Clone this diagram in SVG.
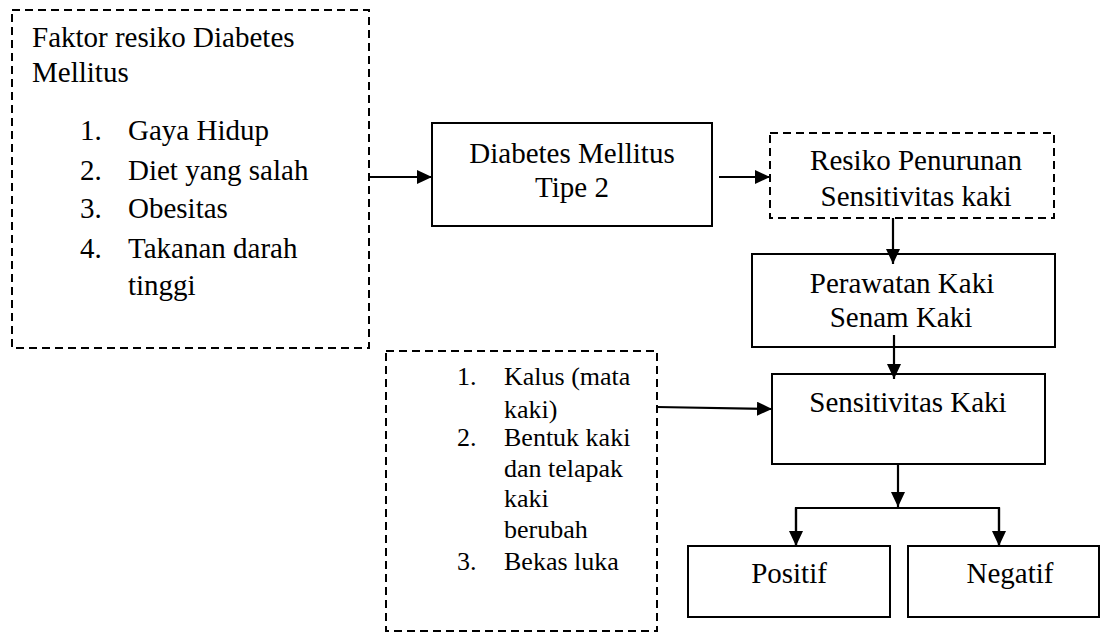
<svg xmlns="http://www.w3.org/2000/svg" width="1102" height="633" viewBox="0 0 1102 633">
<style>
  .solid { fill: #fff; stroke: #000; stroke-width: 2; }
  .dash { fill: #fff; stroke: #000; stroke-width: 2; stroke-dasharray: 8 5; }
  text { font-family: "Liberation Serif", "Times New Roman", serif; fill: #000; }
  .t29 { font-size: 29px; }
  .t26 { font-size: 26px; }
  .c { text-anchor: middle; }
  .conn { stroke: #000; stroke-width: 2.2; fill: none; }
</style>
<defs>
  <marker id="arr" markerUnits="userSpaceOnUse" markerWidth="15" markerHeight="14" refX="15" refY="7" orient="auto">
    <path d="M0,0 L15,7 L0,14 z" fill="#000"/>
  </marker>
</defs>
<rect width="1102" height="633" fill="#fff"/>

<g id="faktor">
  <rect class="dash" x="12" y="10" width="357" height="338"/>
  <text class="t29" x="32" y="47">Faktor resiko Diabetes</text>
  <text class="t29" x="32" y="82">Mellitus</text>
  <text class="t29" x="80" y="140">1.</text><text class="t29" x="128" y="140">Gaya Hidup</text>
  <text class="t29" x="80" y="180">2.</text><text class="t29" x="128" y="180">Diet yang salah</text>
  <text class="t29" x="80" y="218">3.</text><text class="t29" x="128" y="218">Obesitas</text>
  <text class="t29" x="80" y="258">4.</text><text class="t29" x="128" y="258">Takanan darah</text>
  <text class="t29" x="128" y="295">tinggi</text>
</g>

<g id="dm">
  <rect class="solid" x="432" y="123" width="280" height="103"/>
  <text class="t29 c" x="572" y="163">Diabetes Mellitus</text>
  <text class="t29 c" x="572" y="197">Tipe 2</text>
</g>

<g id="resiko">
  <rect class="dash" x="770" y="133" width="284" height="85"/>
  <text class="t29 c" x="916" y="170">Resiko Penurunan</text>
  <text class="t29 c" x="916" y="206">Sensitivitas kaki</text>
</g>

<g id="perawatan">
  <rect class="solid" x="752" y="254" width="303" height="93"/>
  <text class="t29 c" x="902" y="293">Perawatan Kaki</text>
  <text class="t29 c" x="901" y="327">Senam Kaki</text>
</g>

<g id="faktor2">
  <rect class="dash" x="386" y="351" width="271" height="280"/>
  <text class="t26" x="457" y="385">1.</text><text class="t26" x="504" y="385">Kalus (mata</text>
  <text class="t26" x="504" y="418">kaki)</text>
  <text class="t26" x="457" y="446">2.</text><text class="t26" x="504" y="446">Bentuk kaki</text>
  <text class="t26" x="504" y="477">dan telapak</text>
  <text class="t26" x="504" y="507">kaki</text>
  <text class="t26" x="504" y="538">berubah</text>
  <text class="t26" x="457" y="570">3.</text><text class="t26" x="504" y="570">Bekas luka</text>
</g>

<g id="sensitivitas">
  <rect class="solid" x="772" y="374" width="273" height="90"/>
  <text class="t29 c" x="908" y="412">Sensitivitas Kaki</text>
</g>

<g id="positif">
  <rect class="solid" x="688" y="546" width="202" height="71"/>
  <text class="t29 c" x="789" y="583">Positif</text>
</g>

<g id="negatif">
  <rect class="solid" x="908" y="546" width="191" height="71"/>
  <text class="t29 c" x="1010" y="583">Negatif</text>
</g>

<g id="connectors">
  <line class="conn" x1="369" y1="177" x2="432" y2="177" marker-end="url(#arr)"/>
  <line class="conn" x1="719" y1="177" x2="770" y2="177" marker-end="url(#arr)"/>
  <line class="conn" x1="893" y1="218" x2="893" y2="264" marker-end="url(#arr)"/>
  <line class="conn" x1="894" y1="335" x2="894" y2="379" marker-end="url(#arr)"/>
  <line class="conn" x1="657" y1="407" x2="772" y2="409" marker-end="url(#arr)"/>
  <line class="conn" x1="898" y1="464" x2="898" y2="507" marker-end="url(#arr)"/>
  <polyline class="conn" points="796,545 796,508 999,508 999,545"/>
  <line class="conn" x1="796" y1="508" x2="796" y2="546" marker-end="url(#arr)"/>
  <line class="conn" x1="999" y1="508" x2="999" y2="546" marker-end="url(#arr)"/>
</g>
</svg>
